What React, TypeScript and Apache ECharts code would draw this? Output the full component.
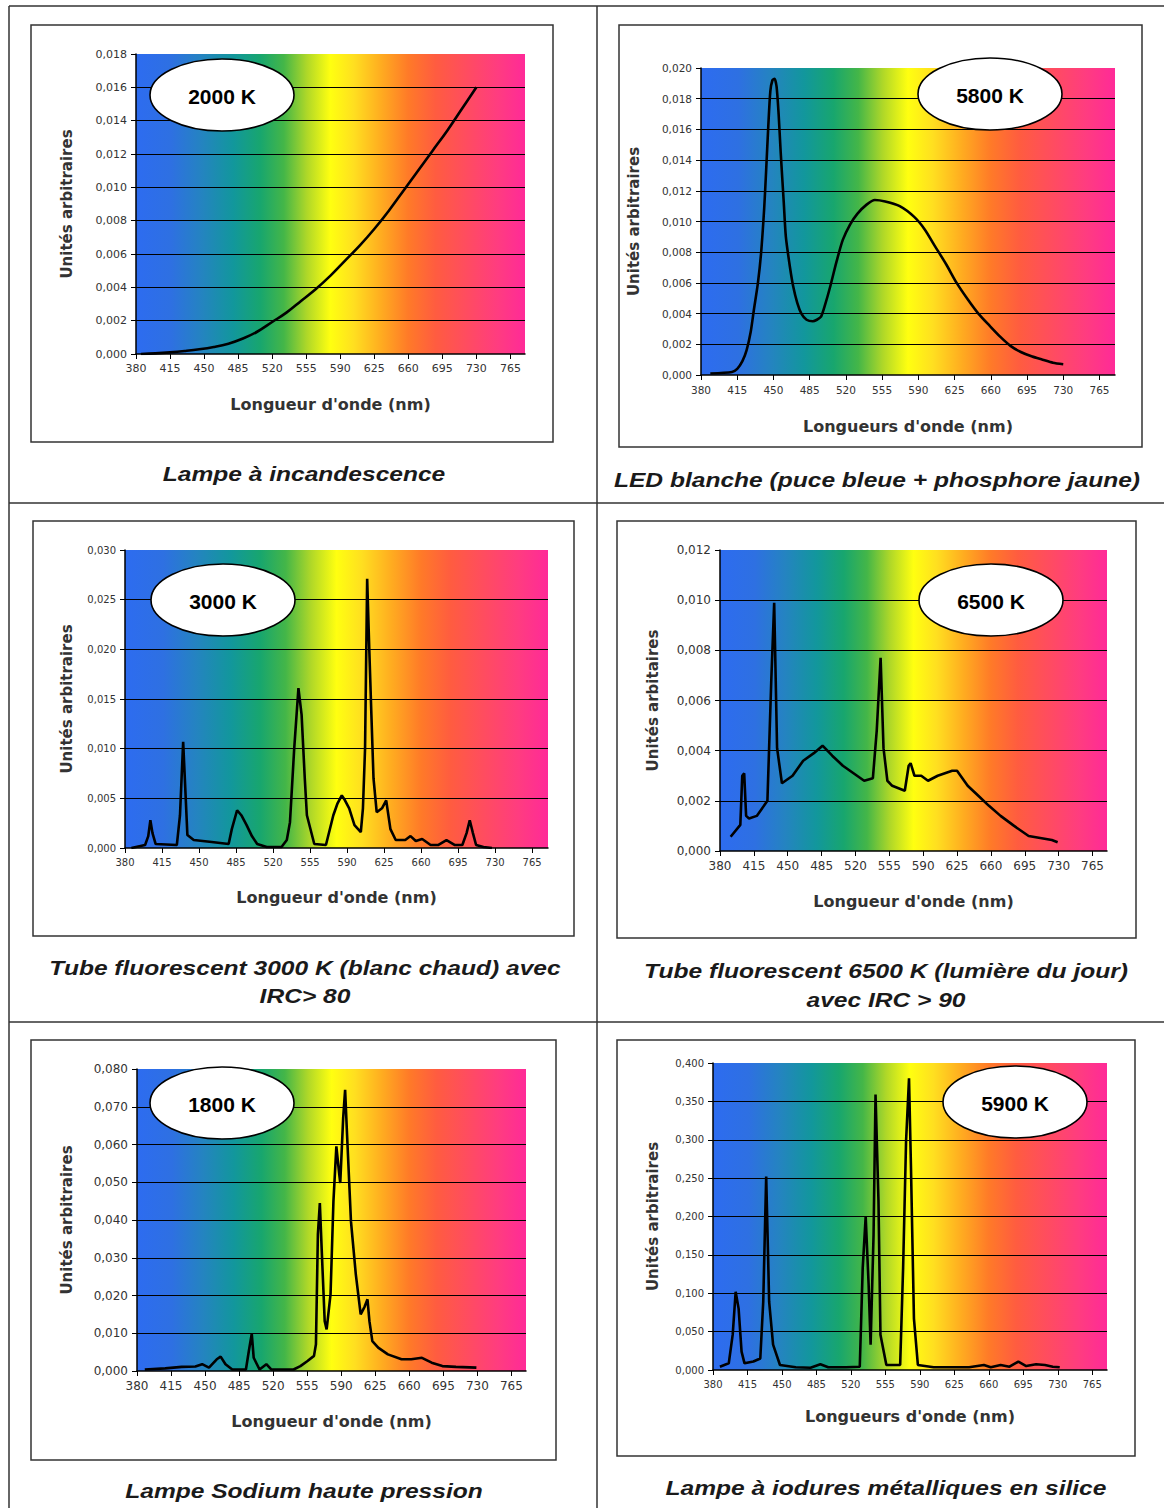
import React, { useEffect, useRef } from "react";
import * as echarts from "echarts";

// ---------- data ----------
const X_TICKS = [380, 415, 450, 485, 520, 555, 590, 625, 660, 695, 730, 765];

const incWl = [385, 400, 415, 430, 445, 460, 475, 490, 505, 520, 535, 550, 565, 580, 595, 610, 625, 640, 655, 670, 685, 700, 715, 730];
const incVal = [0.0, 0.00004, 0.0001, 0.00018, 0.00028, 0.00042, 0.00062, 0.00093, 0.00135, 0.00192, 0.0025, 0.0032, 0.0039, 0.0047, 0.0056, 0.0065, 0.0075, 0.0086, 0.0098, 0.011, 0.0122, 0.0134, 0.0147, 0.016];

const ledWl = [389, 410, 415, 420, 424, 428, 431, 435, 438, 441, 443, 445, 447, 449, 451, 453, 455, 457, 460, 462, 466, 469, 473, 477, 482, 488, 492, 496, 500, 505, 511, 517, 524, 531, 540, 548, 558, 572, 586, 596, 606, 617, 627, 638, 648, 659, 669, 679, 689, 700, 710, 720, 730];
const ledVal = [0.0001, 0.0002, 0.0004, 0.0009, 0.0016, 0.0028, 0.0042, 0.006, 0.0079, 0.0108, 0.0134, 0.0162, 0.0185, 0.0192, 0.0193, 0.0188, 0.017, 0.0145, 0.0112, 0.009, 0.007, 0.0058, 0.0047, 0.004, 0.0036, 0.0035, 0.0036, 0.0038, 0.0046, 0.0058, 0.0074, 0.0088, 0.0098, 0.0105, 0.0111, 0.0114, 0.0113, 0.011, 0.0103, 0.0095, 0.0084, 0.0072, 0.006, 0.0049, 0.004, 0.0032, 0.0025, 0.0019, 0.0015, 0.0012, 0.001, 0.0008, 0.0007];

const fl3Wl = [386, 399, 402, 404, 406, 409, 429, 432, 435, 437, 439, 445, 462, 478, 481, 486, 490, 495, 500, 505, 514, 528, 533, 536, 540, 544, 547, 550, 552, 559, 570, 577, 581, 585, 588, 592, 597, 603, 605, 607, 609, 611, 613, 615, 618, 623, 627, 631, 636, 645, 650, 655, 661, 669, 676, 684, 692, 699, 703, 706, 709, 712, 719, 727];
const fl3Val = [0.0, 0.0003, 0.0012, 0.0028, 0.0015, 0.0004, 0.0003, 0.0033, 0.0107, 0.006, 0.0013, 0.0008, 0.0006, 0.0004, 0.0019, 0.0038, 0.0033, 0.0023, 0.0012, 0.0004, 0.0001, 0.0001, 0.0008, 0.0026, 0.01, 0.0161, 0.0134, 0.007, 0.0033, 0.0004, 0.0003, 0.0033, 0.0045, 0.0053, 0.0048, 0.004, 0.0023, 0.0016, 0.004, 0.01, 0.0271, 0.02, 0.0134, 0.007, 0.0036, 0.004, 0.0048, 0.0019, 0.0008, 0.0008, 0.0012, 0.0007, 0.0009, 0.0003, 0.0003, 0.0008, 0.0003, 0.0003, 0.0015, 0.0028, 0.0015, 0.0003, 0.0001, 0.0];

const fl6Wl = [391, 401, 403, 405, 407, 410, 418, 429, 433, 436, 439, 444, 455, 466, 477, 486, 496, 507, 518, 529, 538, 542, 546, 549, 553, 558, 571, 575, 577, 581, 588, 595, 605, 620, 625, 636, 647, 658, 670, 684, 699, 714, 723, 729];
const fl6Val = [0.00057, 0.00104, 0.003, 0.0031, 0.0014, 0.0013, 0.0014, 0.002, 0.0068, 0.0099, 0.0041, 0.0027, 0.003, 0.0036, 0.0039, 0.0042, 0.0038, 0.0034, 0.0031, 0.0028, 0.0029, 0.0048, 0.0077, 0.0041, 0.0028, 0.0026, 0.0024, 0.0034, 0.0035, 0.003, 0.003, 0.0028, 0.003, 0.0032, 0.0032, 0.0026, 0.0022, 0.0018, 0.0014, 0.001, 0.0006, 0.0005, 0.00044, 0.00035];

const naWl = [388, 409, 426, 440, 447, 454, 462, 466, 471, 478, 492, 495, 498, 500, 506, 513, 518, 541, 548, 555, 562, 564, 566, 568, 570, 573, 575, 579, 582, 585, 588, 589, 592, 594, 596, 600, 605, 610, 614, 617, 619, 622, 628, 638, 652, 662, 673, 683, 694, 708, 729];
const naVal = [0.0004, 0.0007, 0.0011, 0.0012, 0.0018, 0.0009, 0.0031, 0.0038, 0.0018, 0.0004, 0.0004, 0.0053, 0.0099, 0.0035, 0.0004, 0.0018, 0.0004, 0.0004, 0.0013, 0.0026, 0.004, 0.0071, 0.0362, 0.0445, 0.0317, 0.0132, 0.011, 0.0203, 0.045, 0.0595, 0.052, 0.0498, 0.067, 0.0745, 0.0626, 0.0397, 0.0256, 0.015, 0.017, 0.019, 0.0132, 0.0079, 0.0062, 0.0044, 0.0031, 0.0031, 0.0035, 0.0022, 0.0013, 0.0011, 0.0009];

const mhWl = [387, 396, 400, 403, 406, 409, 412, 421, 428, 431, 434, 437, 441, 448, 464, 479, 489, 497, 515, 529, 532, 535, 538, 540, 543, 545, 548, 550, 556, 570, 573, 576, 579, 581, 584, 588, 604, 640, 655, 662, 672, 681, 690, 698, 708, 717, 725, 732];
const mhVal = [0.0043, 0.0087, 0.046, 0.102, 0.08, 0.024, 0.0087, 0.011, 0.015, 0.089, 0.252, 0.089, 0.033, 0.0065, 0.0035, 0.003, 0.0074, 0.0035, 0.0035, 0.0043, 0.133, 0.2, 0.111, 0.033, 0.176, 0.359, 0.22, 0.046, 0.0065, 0.0065, 0.133, 0.298, 0.38, 0.263, 0.067, 0.0065, 0.0035, 0.0035, 0.0065, 0.0035, 0.0065, 0.0043, 0.011, 0.0052, 0.0074, 0.0065, 0.0043, 0.0035];

const temps = ["2000 K", "5800 K", "3000 K", "6500 K", "1800 K", "5900 K"];
const yMaxes = [0.018, 0.02, 0.03, 0.012, 0.08, 0.4];
const yIntervals = [0.002, 0.002, 0.005, 0.002, 0.01, 0.05];
const xTitles = ["Longueur d'onde (nm)", "Longueurs d'onde (nm)", "Longueur d'onde (nm)", "Longueur d'onde (nm)", "Longueur d'onde (nm)", "Longueurs d'onde (nm)"];
const yTitles = ["Unités arbitraires", "Unités arbitraires", "Unités arbitraires", "Unités arbitaires", "Unités arbitraires", "Unités arbitraires"];
const captions = [
  ["Lampe à incandescence"],
  ["LED blanche (puce bleue + phosphore jaune)"],
  ["Tube fluorescent 3000 K (blanc chaud) avec", "IRC> 80"],
  ["Tube fluorescent 6500 K (lumière du jour)", "avec IRC > 90"],
  ["Lampe Sodium haute pression"],
  ["Lampe à iodures métalliques en silice"],
];
const seriesWl = [incWl, ledWl, fl3Wl, fl6Wl, naWl, mhWl];
const seriesVal = [incVal, ledVal, fl3Val, fl6Val, naVal, mhVal];
const smoothing = [0.4, 0.25, false, false, false, false];

// ---------- layout ----------
const W = 1164;
const H = 1508;
// plot rectangles [x0, y0, x1, y1]
const plots = [
  [136, 54, 525, 354],
  [701, 68, 1115, 375],
  [125, 550, 548, 848],
  [720, 550, 1107, 851],
  [137, 1069, 526, 1371],
  [713, 1063, 1107, 1370],
];
const boxes = [
  [31, 25, 553, 442],
  [619, 25, 1142, 447],
  [33, 521, 574, 936],
  [617, 521, 1136, 938],
  [31, 1040, 556, 1460],
  [617, 1040, 1135, 1456],
];
const ellipses = [
  [222, 95],
  [990, 94],
  [223, 600],
  [991, 600],
  [222, 1103],
  [1015, 1102],
];
const captionPos = [
  [304, 474, 0],
  [877, 480, 0],
  [305, 968, 28],
  [886, 971, 29],
  [304, 1491, 0],
  [886, 1488, 0],
];
const tickFont = [11, 10.5, 10, 12, 12, 10];
const xNameGap = [42, 43, 41, 42, 42, 38];
const yNameGap = [62, 60, 51, 60, 63, 53];

const spectrumStops = [
  [0, "#2d6cf0"],
  [0.09, "#2e70e2"],
  [0.17, "#2484c0"],
  [0.25, "#12979c"],
  [0.32, "#18a66e"],
  [0.38, "#44b648"],
  [0.44, "#b0d828"],
  [0.5, "#ffff10"],
  [0.56, "#ffdf20"],
  [0.63, "#ffac20"],
  [0.7, "#ff7a28"],
  [0.77, "#ff5c40"],
  [0.85, "#ff4c60"],
  [0.93, "#ff3c80"],
  [1, "#ff2a98"],
];

const fmt = (v: number) => v.toFixed(3).replace(".", ",");

function buildOption() {
  const grid: any[] = [];
  const xAxis: any[] = [];
  const yAxis: any[] = [];
  const series: any[] = [];
  const graphic: any[] = [];

  for (let i = 0; i < 6; i++) {
    const [x0, y0, x1, y1] = plots[i];
    grid.push({
      left: x0,
      top: y0,
      width: x1 - x0,
      height: y1 - y0,
      show: true,
      borderWidth: 0,
      backgroundColor: new echarts.graphic.LinearGradient(
        0, 0, 1, 0,
        spectrumStops.map(([offset, color]) => ({ offset: offset as number, color: color as string }))
      ),
    });
    xAxis.push({
      gridIndex: i,
      type: "value",
      min: 380,
      max: 780,
      axisLine: { show: true, onZero: false, lineStyle: { color: "#000", width: 1.5 } },
      axisTick: { show: true, customValues: X_TICKS, length: 5, lineStyle: { color: "#000", width: 1 } },
      axisLabel: {
        customValues: X_TICKS,
        margin: 9,
        fontSize: tickFont[i],
        color: "#333",
        fontFamily: "DejaVu Sans",
      },
      splitLine: { show: false },
      name: xTitles[i],
      nameLocation: "middle",
      nameGap: xNameGap[i],
      nameTextStyle: { fontFamily: "DejaVu Sans", fontWeight: "bold", fontSize: 16, color: "#333" },
    });
    yAxis.push({
      gridIndex: i,
      type: "value",
      min: 0,
      max: yMaxes[i],
      interval: yIntervals[i],
      axisLine: { show: true, lineStyle: { color: "#000", width: 1.5 } },
      axisTick: { show: true, length: 5, lineStyle: { color: "#000", width: 1 } },
      axisLabel: {
        formatter: fmt,
        margin: 9,
        fontSize: tickFont[i],
        color: "#333",
        fontFamily: "DejaVu Sans",
      },
      splitLine: {
        show: true,
        showMinLine: false,
        showMaxLine: false,
        lineStyle: { color: "#000", width: 1.2 },
      },
      name: yTitles[i],
      nameLocation: "middle",
      nameGap: yNameGap[i],
      nameTextStyle: { fontFamily: "DejaVu Sans", fontWeight: "bold", fontSize: 15, color: "#333" },
    });
    series.push({
      type: "line",
      xAxisIndex: i,
      yAxisIndex: i,
      data: seriesWl[i].map((w, k) => [w, seriesVal[i][k]]),
      showSymbol: false,
      symbol: "none",
      smooth: smoothing[i],
      silent: true,
      lineStyle: { color: "#000", width: 2.6 },
      z: 3,
    });

    // chart frame
    const [bx0, by0, bx1, by1] = boxes[i];
    graphic.push({
      type: "rect",
      shape: { x: bx0, y: by0, width: bx1 - bx0, height: by1 - by0 },
      style: { fill: "none", stroke: "#333", lineWidth: 1.5 },
      z: 1,
      silent: true,
    });
    // colour-temperature ellipse
    const [ecx, ecy] = ellipses[i];
    graphic.push({
      type: "ellipse",
      shape: { cx: ecx, cy: ecy, rx: 72, ry: 36 },
      style: { fill: "#fff", stroke: "#000", lineWidth: 1.6 },
      z: 20,
      silent: true,
    });
    graphic.push({
      type: "text",
      x: ecx,
      y: ecy + 1,
      style: {
        text: temps[i],
        fill: "#000",
        font: 'bold 21px "Liberation Sans", Arial, sans-serif',
        textAlign: "center",
        textVerticalAlign: "middle",
      },
      z: 21,
      silent: true,
    });
    // caption
    const [cx, cy, lh] = captionPos[i];
    captions[i].forEach((line, k) => {
      graphic.push({
        type: "text",
        x: cx,
        y: cy + k * lh,
        scaleX: 1.17,
        style: {
          text: line,
          fill: "#1a1a1a",
          font: 'italic bold 21px "Liberation Sans", Arial, sans-serif',
          textAlign: "center",
          textVerticalAlign: "middle",
        },
        z: 5,
        silent: true,
      });
    });
  }

  // table rules
  const rule = (x1: number, y1: number, x2: number, y2: number) => ({
    type: "line",
    shape: { x1, y1, x2, y2 },
    style: { stroke: "#333", lineWidth: 1.5 },
    z: 1,
    silent: true,
  });
  graphic.push(rule(9, 6, W, 6));
  graphic.push(rule(9, 6, 9, H));
  graphic.push(rule(597, 6, 597, H));
  graphic.push(rule(9, 503, W, 503));
  graphic.push(rule(9, 1022, W, 1022));

  return {
    animation: false,
    backgroundColor: "#fff",
    grid,
    xAxis,
    yAxis,
    series,
    graphic,
  };
}

export default function App() {
  const ref = useRef<HTMLDivElement>(null);
  useEffect(() => {
    if (!ref.current) return;
    const chart = echarts.init(ref.current, null, { renderer: "svg", width: W, height: H });
    chart.setOption(buildOption() as any);
    return () => chart.dispose();
  }, []);
  return (
    <div
      ref={ref}
      style={{ position: "absolute", left: 0, top: 0, width: W, height: H, background: "#fff" }}
    />
  );
}
